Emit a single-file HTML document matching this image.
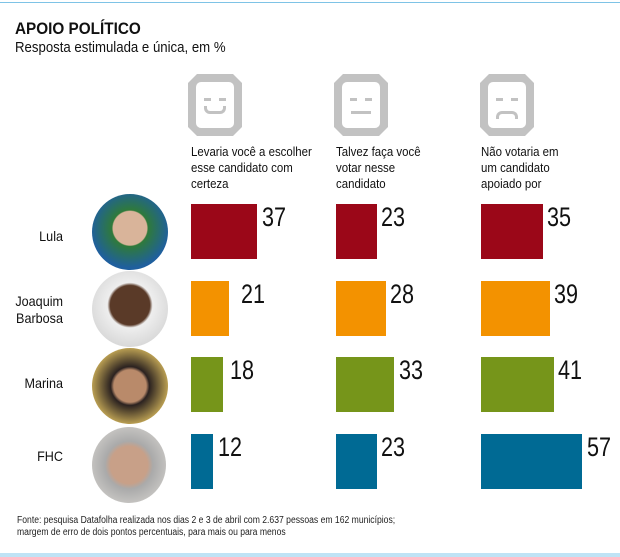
<!DOCTYPE html>
<html><head><meta charset="utf-8"><style>
body{margin:0;width:620px;height:557px;background:#fff;position:relative;overflow:hidden;font-family:"Liberation Sans",sans-serif;color:#111}
div{position:absolute}
.t{white-space:nowrap}
.bar{height:55px}
.n{font-size:27px;line-height:25px;transform:scaleX(0.8);transform-origin:left top}
.lbl{font-size:13px;line-height:16px;transform:scaleX(0.88);transform-origin:left top}
.name{font-size:14px;line-height:17px;text-align:right;width:60px;left:3px;transform:scaleX(0.9);transform-origin:right top}
.ph{width:76px;height:76px;border-radius:50%;left:92px}
.face{width:54px;height:62px;background:#c2c2c2;clip-path:polygon(9px 0,45px 0,54px 9px,54px 53px,45px 62px,9px 62px,0 53px,0 9px)}
.in{position:absolute;left:8px;top:8px;width:38px;height:46px;background:#fff;border-radius:5px}
.e{position:absolute;background:#c2c2c2;width:7px;height:3px;top:16px}
</style></head><body>
<div style="left:0;top:2px;width:620px;height:1px;background:#7ec3e6"></div>
<div style="left:0;top:553px;width:620px;height:4px;background:#bfe3f5"></div>
<div class="t" style="left:15px;top:19px;font-size:17px;font-weight:bold;transform:scaleX(0.9);transform-origin:left top">APOIO POLÍTICO</div>
<div class="t" style="left:15px;top:39px;font-size:15px;transform:scaleX(0.88);transform-origin:left top">Resposta estimulada e única, em %</div>

<div class="face" style="left:188px;top:74px"><div class="in"><div class="e" style="left:8px"></div><div class="e" style="left:23px"></div><div style="position:absolute;left:8px;top:24px;width:16px;height:5px;border:3px solid #c2c2c2;border-top:none;border-radius:0 0 6px 6px"></div></div></div>
<div class="face" style="left:334px;top:74px"><div class="in"><div class="e" style="left:8px"></div><div class="e" style="left:23px"></div><div style="position:absolute;left:9px;top:29px;width:20px;height:3px;background:#c2c2c2"></div></div></div>
<div class="face" style="left:480px;top:74px"><div class="in"><div class="e" style="left:8px"></div><div class="e" style="left:23px"></div><div style="position:absolute;left:8px;top:29px;width:16px;height:5px;border:3px solid #c2c2c2;border-bottom:none;border-radius:6px 6px 0 0"></div></div></div>

<div class="lbl t" style="left:191px;top:144px">Levaria você a escolher<br>esse candidato com<br>certeza</div>
<div class="lbl t" style="left:336px;top:144px">Talvez faça você<br>votar nesse<br>candidato</div>
<div class="lbl t" style="left:481px;top:144px">Não votaria em<br>um candidato<br>apoiado por</div>

<div class="name t" style="top:228px">Lula</div>
<div class="name" style="top:293px">Joaquim<br>Barbosa</div>
<div class="name t" style="top:375px">Marina</div>
<div class="name t" style="top:448px">FHC</div>

<div class="ph" style="top:194px;background:radial-gradient(circle at 50% 45%,#d9b49a 0 30%,#2f7a3a 32%,#1f5f9e 70%)"></div>
<div class="ph" style="top:271px;background:radial-gradient(circle at 50% 45%,#5a3a28 0 35%,#eee 40%,#c8c8c8 100%)"></div>
<div class="ph" style="top:348px;background:radial-gradient(circle at 50% 50%,#b98a6a 0 30%,#2b2220 36%,#e0c060 80%)"></div>
<div class="ph" style="top:427px;width:74px;height:76px;background:radial-gradient(circle at 50% 50%,#c8a088 0 35%,#aaa 45%,#e0ddd8 100%)"></div>

<div class="bar" style="left:191px;top:204px;width:66px;background:#9b0718"></div>
<div class="bar" style="left:336px;top:204px;width:41px;background:#9b0718"></div>
<div class="bar" style="left:481px;top:204px;width:62px;background:#9b0718"></div>
<div class="n t" style="left:262px;top:205px">37</div>
<div class="n t" style="left:381px;top:205px">23</div>
<div class="n t" style="left:547px;top:205px">35</div>

<div class="bar" style="left:191px;top:281px;width:38px;background:#f39200"></div>
<div class="bar" style="left:336px;top:281px;width:50px;background:#f39200"></div>
<div class="bar" style="left:481px;top:281px;width:69px;background:#f39200"></div>
<div class="n t" style="left:241px;top:282px">21</div>
<div class="n t" style="left:390px;top:282px">28</div>
<div class="n t" style="left:554px;top:282px">39</div>

<div class="bar" style="left:191px;top:357px;width:32px;background:#76951a"></div>
<div class="bar" style="left:336px;top:357px;width:58px;background:#76951a"></div>
<div class="bar" style="left:481px;top:357px;width:73px;background:#76951a"></div>
<div class="n t" style="left:230px;top:358px">18</div>
<div class="n t" style="left:399px;top:358px">33</div>
<div class="n t" style="left:558px;top:358px">41</div>

<div class="bar" style="left:191px;top:434px;width:22px;background:#006a94"></div>
<div class="bar" style="left:336px;top:434px;width:41px;background:#006a94"></div>
<div class="bar" style="left:481px;top:434px;width:101px;background:#006a94"></div>
<div class="n t" style="left:218px;top:435px">12</div>
<div class="n t" style="left:381px;top:435px">23</div>
<div class="n t" style="left:587px;top:435px">57</div>

<div class="t" style="left:17px;top:515px;font-size:10px;line-height:12px;color:#222;transform:scaleX(0.86);transform-origin:left top">Fonte: pesquisa Datafolha realizada nos dias 2 e 3 de abril com 2.637 pessoas em 162 municípios;<br>margem de erro de dois pontos percentuais, para mais ou para menos</div>
</body></html>
